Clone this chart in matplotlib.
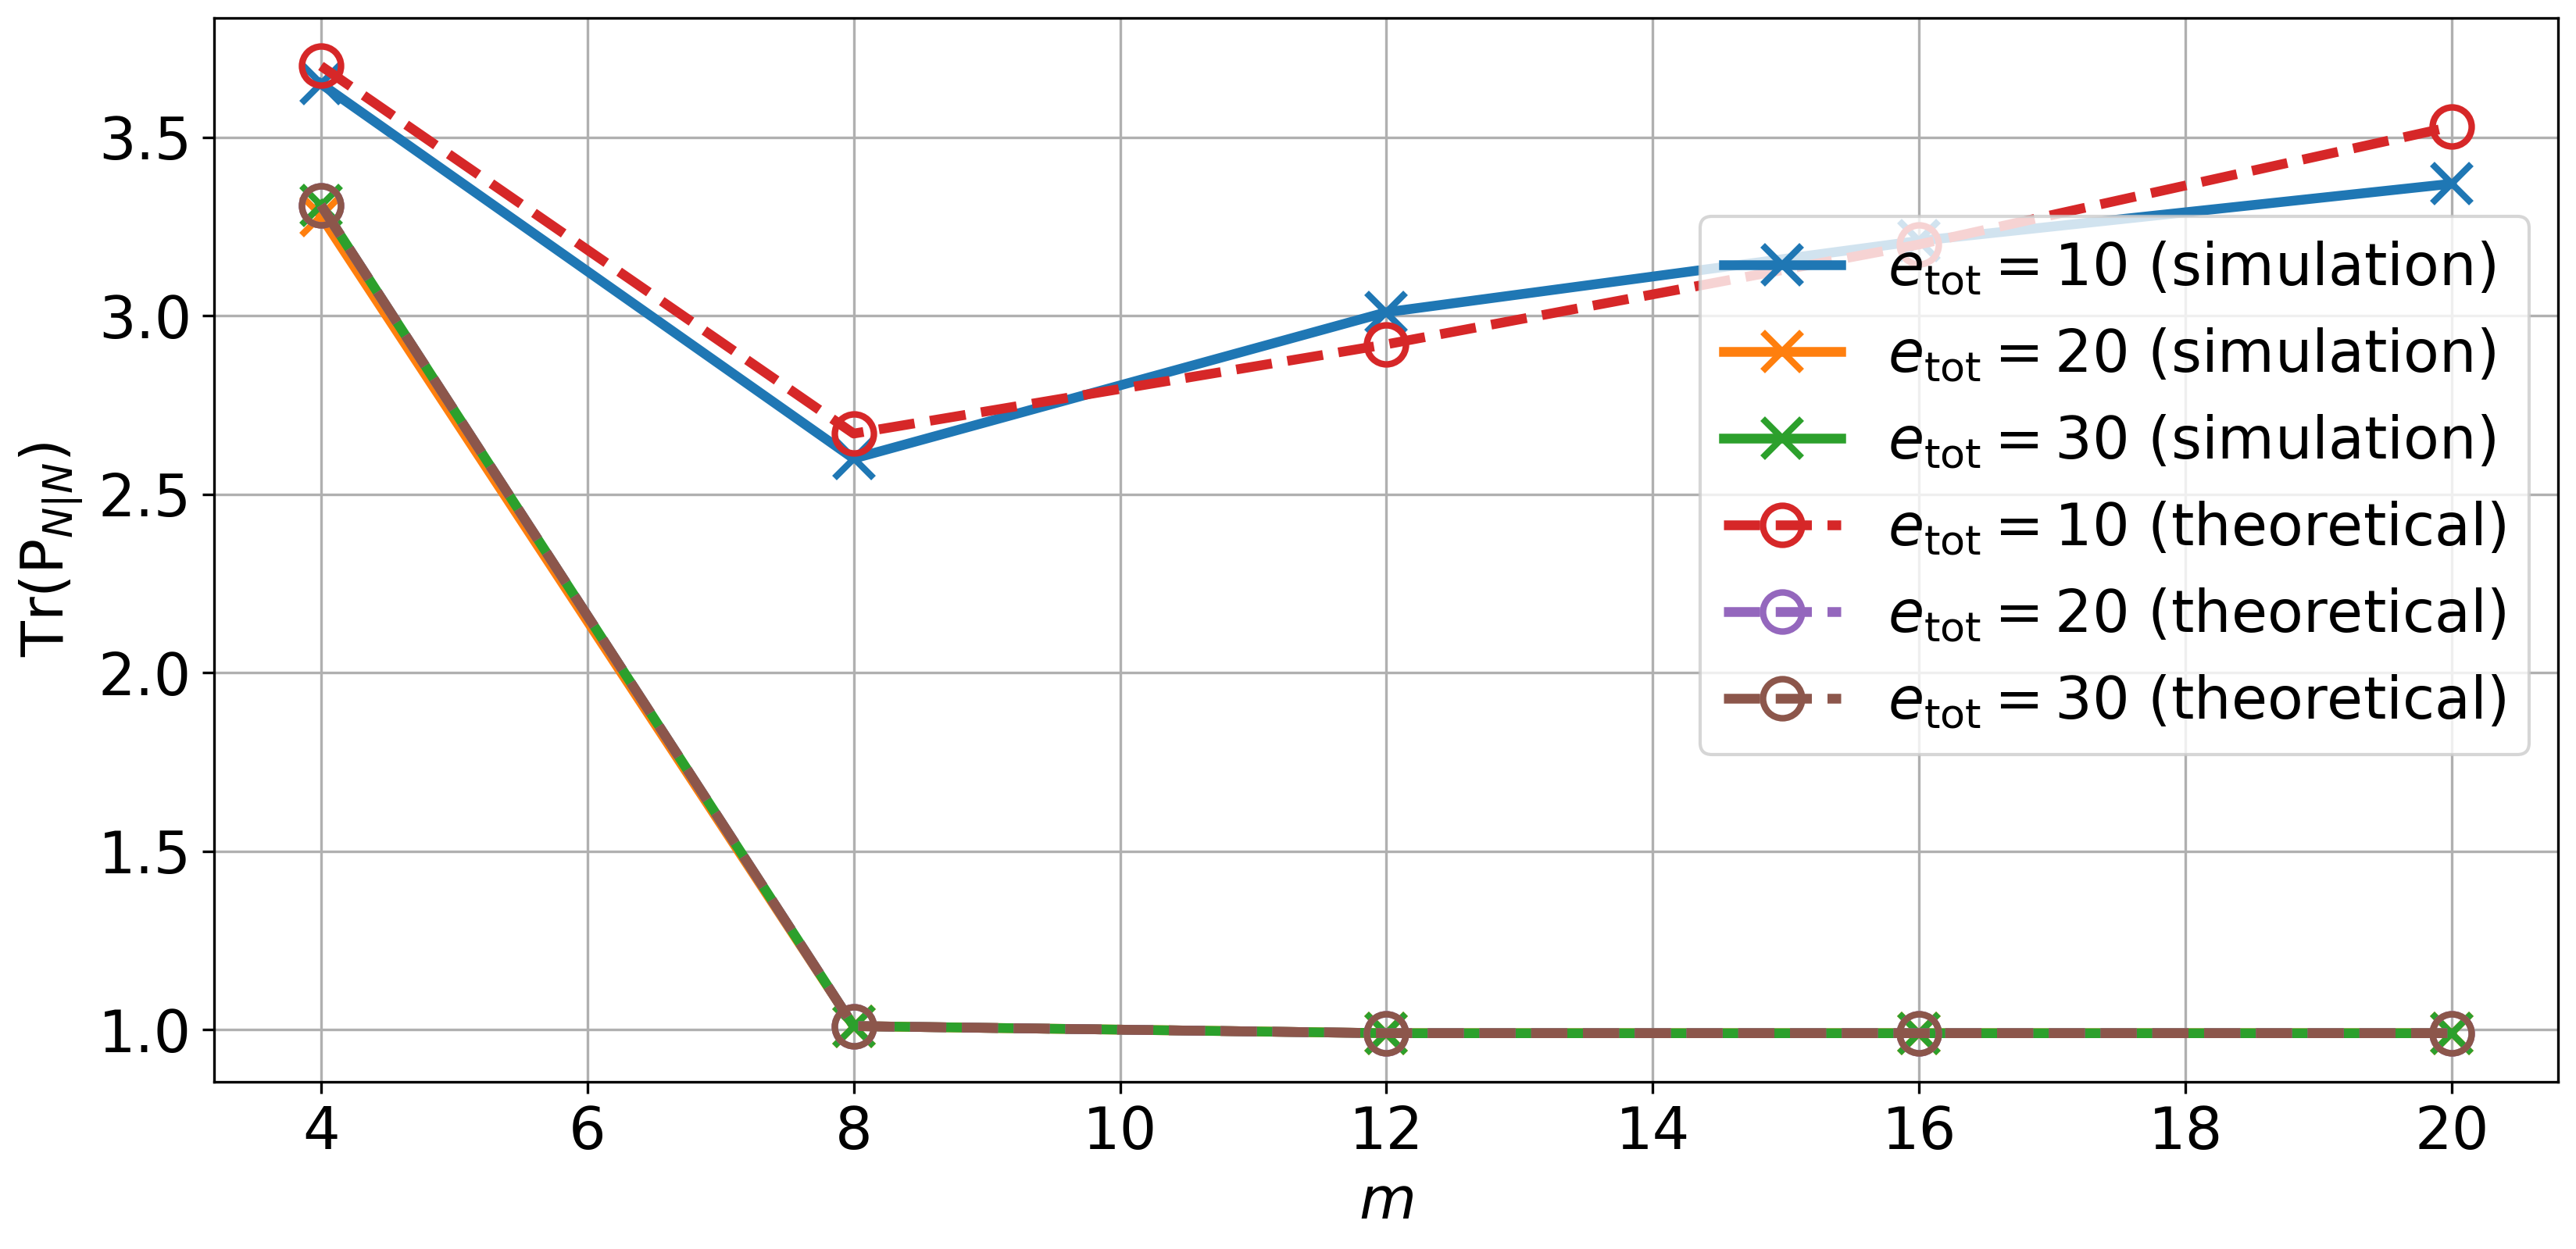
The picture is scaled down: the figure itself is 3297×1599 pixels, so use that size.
import matplotlib
matplotlib.use("Agg")
import matplotlib.pyplot as plt

m = [4, 8, 12, 16, 20]
sim_10 = [3.65, 2.60, 3.01, 3.21, 3.37]
sim_20 = [3.28, 1.01, 0.99, 0.99, 0.99]
sim_30 = [3.31, 1.01, 0.99, 0.99, 0.99]
theo_10 = [3.70, 2.67, 2.92, 3.20, 3.53]
theo_20 = [3.31, 1.01, 0.99, 0.99, 0.99]
theo_30 = [3.31, 1.01, 0.99, 0.99, 0.99]

plt.rcParams["font.size"] = 18
fig, ax = plt.subplots(figsize=(10.99, 5.33), dpi=300)

for vals, e, c in [(sim_10, 10, "C0"), (sim_20, 20, "C1"), (sim_30, 30, "C2")]:
    ax.plot(m, vals, "-x", color=c, lw=3, ms=12, mew=2,
            label=rf"$e_{{\mathrm{{tot}}}} = {e}$ (simulation)")
for vals, e, c in [(theo_10, 10, "C3"), (theo_20, 20, "C4"), (theo_30, 30, "C5")]:
    ax.plot(m, vals, "--o", color=c, lw=3, ms=12, mew=2, mfc="none",
            label=rf"$e_{{\mathrm{{tot}}}} = {e}$ (theoretical)")

ax.set_xlabel("$m$")
ax.set_ylabel(r"Tr($\mathrm{P}_{N|N}$)")
ax.set_xticks(range(4, 21, 2))
ax.grid(True)
ax.legend(loc="center right", bbox_to_anchor=(1.0, 0.56), fontsize=18)
fig.tight_layout(pad=0.3)
fig.savefig("out.png", dpi=300)
